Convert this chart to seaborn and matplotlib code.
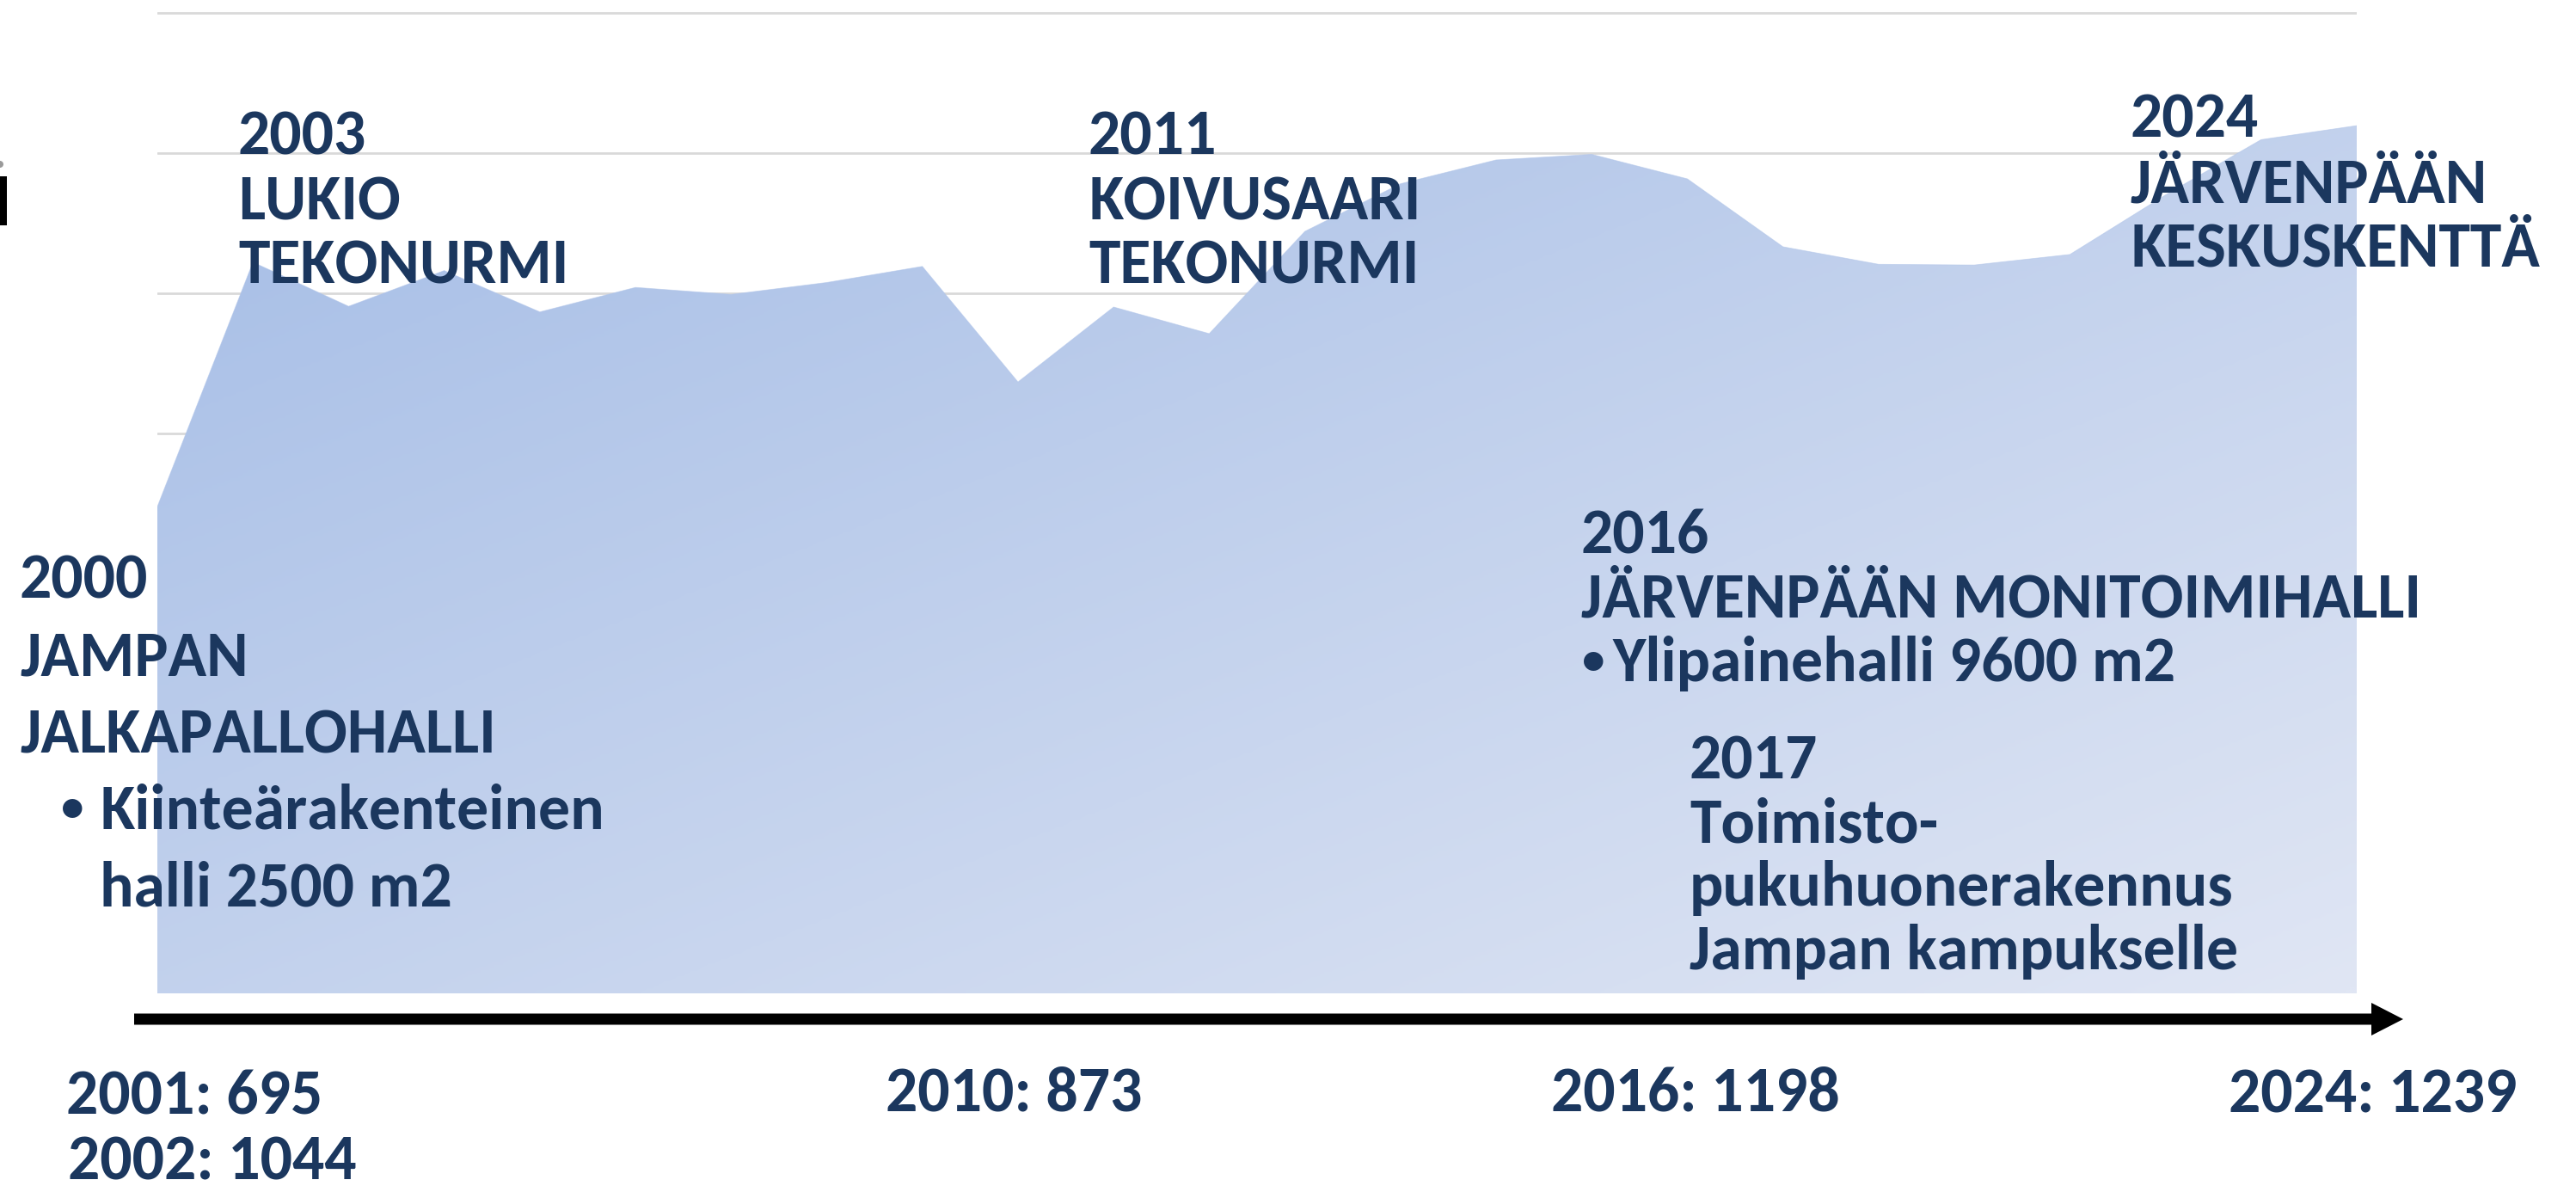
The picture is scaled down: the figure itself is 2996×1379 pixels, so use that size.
import numpy as np
import matplotlib
matplotlib.use("Agg")
import matplotlib.pyplot as plt
import seaborn as sns
from matplotlib import font_manager as fm
from matplotlib.patches import Polygon, Rectangle, Circle
from matplotlib.colors import LinearSegmentedColormap

# ---------------- data ----------------
years = list(range(2001, 2025))
values = [695, 1044, 981, 1032, 973, 1008, 998, 1015, 1038, 873, 980, 942,
          1088, 1156, 1190, 1198, 1163, 1066, 1041, 1040, 1055, 1140, 1219, 1239]
grid_values = [0, 200, 400, 600, 800, 1000, 1200, 1400]

event_2000 = ["2000", "JAMPAN", "JALKAPALLOHALLI"]
event_2000_bullet = ["Kiinteärakenteinen", "halli 2500 m2"]
event_2003 = ["2003", "LUKIO", "TEKONURMI"]
event_2011 = ["2011", "KOIVUSAARI", "TEKONURMI"]
event_2016 = ["2016", "JÄRVENPÄÄN MONITOIMIHALLI"]
event_2016_bullet = ["Ylipainehalli 9600 m2"]
event_2017 = ["2017", "Toimisto-", "pukuhuonerakennus", "Jampan kampukselle"]
event_2024 = ["2024", "JÄRVENPÄÄN", "KESKUSKENTTÄ"]
label_years = [2001, 2002, 2010, 2016, 2024]
label_counts = [695, 1044, 873, 1198, 1239]

# ---------------- style ----------------
W, H, DPI = 2996, 1379, 100
NAVY = "#1B375E"
sns.set_theme(style="white")
avail = {f.name for f in fm.fontManager.ttflist}
FAM = next((f for f in ["Carlito", "Lato", "Open Sans", "DejaVu Sans"] if f in avail), "DejaVu Sans")
FS = 53 if FAM == "Carlito" else 46
plt.rcParams["font.family"] = [FAM, "DejaVu Sans"]

fig = plt.figure(figsize=(W / DPI, H / DPI), dpi=DPI)
fig.patch.set_facecolor("white")

# main plot axes (pixel layout)
x0_px, x1_px, base_px, px_per_unit = 183, 2741, 1155, 0.8143
ymax = base_px / px_per_unit
ax = fig.add_axes([x0_px / W, (H - base_px) / H, (x1_px - x0_px) / W, base_px / H])

# gradient fill clipped to the area
nx, ny = 500, 400
xs = np.linspace(0, 1, nx)
vs = np.linspace(0, ymax, ny)
XN, VV = np.meshgrid(xs, vs)
YN = np.clip(1 - VV / max(values), 0, 1)
T = np.clip(0.5 * (XN + YN), 0, 1)
cmap = LinearSegmentedColormap.from_list("g", ["#A5BDE6", "#E0E6F4"])
im = ax.imshow(T, extent=(years[0], years[-1], 0, ymax), origin="lower",
               aspect="auto", cmap=cmap, vmin=0, vmax=1, zorder=2,
               interpolation="bilinear")
verts = [(years[0], 0)] + list(zip(years, values)) + [(years[-1], 0)]
patch = Polygon(verts, closed=True, facecolor="none", edgecolor="none",
                transform=ax.transData)
ax.add_patch(patch)
im.set_clip_path(patch)

sns.lineplot(x=years, y=values, ax=ax, color="#B2C6EA", linewidth=0.6,
             alpha=0.6, zorder=3)

ax.set_xlim(years[0], years[-1])
ax.set_ylim(0, ymax)
ax.set_yticks(grid_values)
ax.set_xticks([])
ax.yaxis.grid(True, color="#D9D9D9", linewidth=2.0)
ax.set_axisbelow(True)
ax.tick_params(left=False, labelleft=False, bottom=False, labelbottom=False)
for s in ax.spines.values():
    s.set_visible(False)
ax.patch.set_alpha(0)
ax.set_xlabel("")
ax.set_ylabel("")

# overlay axes in pixel coordinates
ov = fig.add_axes([0, 0, 1, 1], zorder=5)
ov.set_xlim(0, W)
ov.set_ylim(H, 0)
ov.axis("off")
ov.patch.set_alpha(0)

# arrow
ov.add_patch(Polygon([(156, 1178.5), (2758, 1178.5), (2758, 1166), (2795, 1185),
                      (2758, 1204), (2758, 1191.5), (156, 1191.5)],
                     closed=True, facecolor="black", edgecolor="none"))

# cropped fragment at the left edge
ov.add_patch(Rectangle((0, 205), 8, 57, facecolor="black", edgecolor="none"))
ov.add_patch(Circle((0, 191), 4, facecolor="#9a9a9a", edgecolor="none"))


def put(x, y, s, size=None):
    ov.text(x, y, s, fontsize=size or FS, fontweight="bold", color=NAVY,
            va="baseline", ha="left")


def block(lines, x, y0, dy):
    for i, s in enumerate(lines):
        put(x, y0 + i * dy, s)


block(event_2003, 277, 180, 75)
block(event_2011, 1266, 180, 75)
block(event_2024, 2478, 160, 75)
block(event_2000, 23, 695, 90)
put(71, 955, "•", size=FS * 0.72)
block(event_2000_bullet, 116, 963, 90)
block(event_2016, 1839, 643, 75)
put(1840, 784, "•", size=FS * 0.72)
block(event_2016_bullet, 1875, 792, 75)
block(event_2017, 1965, 905, 74)

label_pos = {2001: (77, 1295), 2002: (79, 1372), 2010: (1030, 1292),
             2016: (1804, 1292), 2024: (2592, 1294)}
for yv, c in zip(label_years, label_counts):
    x, y = label_pos[yv]
    put(x, y, f"{yv}: {c}")

fig.savefig("out.png", dpi=DPI, facecolor="white")
